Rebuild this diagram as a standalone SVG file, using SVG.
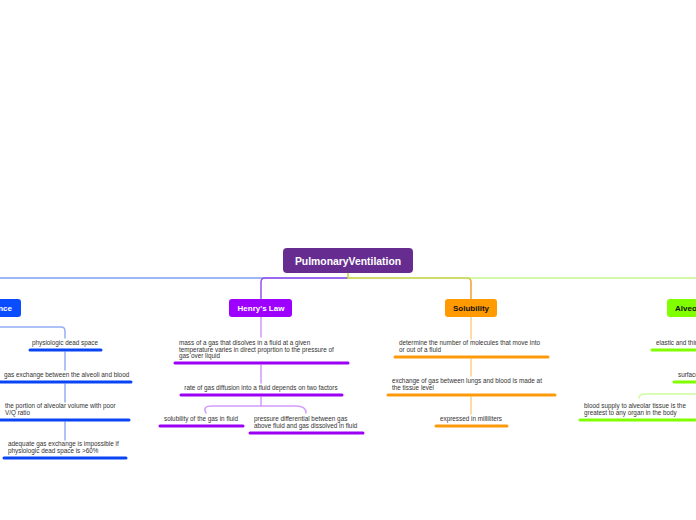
<svg xmlns="http://www.w3.org/2000/svg" width="696" height="520" viewBox="0 0 696 520">
<style>
.t{font-family:"Liberation Sans",Arial,sans-serif;font-size:6.35px;fill:#333}
.h{font-family:"Liberation Sans",Arial,sans-serif;font-size:8px;font-weight:bold;text-anchor:middle}
.c{fill:none;stroke-width:1.5;stroke-linecap:round;stroke-linejoin:round}
.bar{stroke-width:3;stroke-linecap:round}
.blue{stroke:#0a45f5}.pur{stroke:#9b00f5}.org{stroke:#fd9a0a}.grn{stroke:#7fff00}
</style>
<rect width="696" height="520" fill="#fff"/>
<g id="connectors">
  <path class="c" d="M348 278 H-20 V299" stroke="#7f9ef2"/>
  <path class="c" d="M348 278 H265 Q261 278 261 282 V299" stroke="#9650f0"/>
  <path class="c" d="M348 278 H467 Q471 278 471 282 V299" stroke="#f2a030"/>
  <path class="c" d="M348 278 H700" stroke="#b4f570" stroke-opacity="0.8"/>
  <path class="c" d="M348 273 V278" stroke="#b0dc40"/>
  <path class="c" d="M-20 317 V327 H61 Q65 327 65 331 V338" stroke="#94aef6"/>
  <path class="c" d="M65 352 V370 M65 384 V402 M65 422 V440" stroke="#94aef6"/>
  <path class="c" d="M261 317 V337 M261 365 V383 M261 397 V406" stroke="#d29cfb"/>
  <path class="c" d="M206 413 Q202 406 212 406 H296 Q306 406 306 413" stroke="#d29cfb"/>
  <path class="c" d="M471 317 V339 M471 359 V376 M471 397 V414" stroke="#fdd08c"/>
  <path class="c" d="M639 398 Q639 394 646 394 H700" stroke="#cdfc9c"/>
</g>
<g id="root">
  <rect x="283" y="248" width="130" height="25" rx="4" fill="#662c90"/>
  <text x="348" y="264.5" class="h" style="font-size:10.4px" fill="#fff">PulmonaryVentilation</text>
</g>
<g id="node-blue">
  <rect x="-60" y="299" width="81" height="18" rx="3" fill="#0a4cff"/>
  <text x="12" y="311" class="h" style="text-anchor:end" fill="#fff">ance</text>
</g>
<g id="node-henry">
  <rect x="229" y="299" width="63" height="18" rx="3" fill="#9d00ff"/>
  <text x="261" y="311" class="h" fill="#fff">Henry's Law</text>
</g>
<g id="node-solubility">
  <rect x="445" y="299" width="52" height="18" rx="3" fill="#ff9a00"/>
  <text x="471" y="311" class="h" fill="#111">Solubility</text>
</g>
<g id="node-alveoli">
  <rect x="667" y="299" width="70" height="18" rx="3" fill="#80ff00"/>
  <text x="675" y="311" class="h" style="text-anchor:start" fill="#111">Alveoli</text>
</g>
<g id="blue-1">
  <text x="65" y="345" class="t" text-anchor="middle">physiologic dead space</text>
  <line x1="30" y1="350" x2="101" y2="350" class="bar blue"/>
</g>
<g id="blue-2">
  <text x="4" y="377" class="t">gas exchange between the alveoli and blood</text>
  <line x1="-2" y1="382" x2="131" y2="382" class="bar blue"/>
</g>
<g id="blue-3">
  <text x="5" y="408" class="t">the portion of alveolar volume with poor</text>
  <text x="5" y="415" class="t">V/Q ratio</text>
  <line x1="-2" y1="420" x2="129" y2="420" class="bar blue"/>
</g>
<g id="blue-4">
  <text x="8" y="446" class="t">adequate gas exchange is impossible if</text>
  <text x="8" y="453" class="t">physiologic dead space is &gt;60%</text>
  <line x1="4" y1="458" x2="126" y2="458" class="bar blue"/>
</g>
<g id="henry-1">
  <text x="179" y="345" class="t">mass of a gas that disolves in a fluid at a given</text>
  <text x="179" y="352" class="t">temperature varies in direct proprtion to the pressure of</text>
  <text x="179" y="358" class="t">gas over liquid</text>
  <line x1="175" y1="363" x2="348" y2="363" class="bar pur"/>
</g>
<g id="henry-2">
  <text x="261" y="390" class="t" text-anchor="middle">rate of gas diffusion into a fluid depends on two factors</text>
  <line x1="181" y1="395" x2="342" y2="395" class="bar pur"/>
</g>
<g id="henry-3">
  <text x="164" y="421" class="t">solubility of the gas in fluid</text>
  <line x1="160" y1="426" x2="243" y2="426" class="bar pur"/>
</g>
<g id="henry-4">
  <text x="254" y="421" class="t">pressure differential between gas</text>
  <text x="254" y="428" class="t">above fluid and gas dissolved in fluid</text>
  <line x1="250" y1="433" x2="363" y2="433" class="bar pur"/>
</g>
<g id="sol-1">
  <text x="399" y="345" class="t">determine the number of molecules that move into</text>
  <text x="399" y="352" class="t">or out of a fluid</text>
  <line x1="395" y1="357" x2="548" y2="357" class="bar org"/>
</g>
<g id="sol-2">
  <text x="392" y="383" class="t">exchange of gas between lungs and blood is made at</text>
  <text x="392" y="390" class="t">the tissue level</text>
  <line x1="388" y1="395" x2="555" y2="395" class="bar org"/>
</g>
<g id="sol-3">
  <text x="471" y="421" class="t" text-anchor="middle">expressed in milliliters</text>
  <line x1="436" y1="426" x2="507" y2="426" class="bar org"/>
</g>
<g id="alv-1">
  <text x="656" y="345" class="t">elastic and thin</text>
  <line x1="652" y1="350" x2="700" y2="350" class="bar grn"/>
</g>
<g id="alv-2">
  <text x="678" y="377" class="t">surface</text>
  <line x1="674" y1="382" x2="700" y2="382" class="bar grn"/>
</g>
<g id="alv-3">
  <text x="584" y="408" class="t">blood supply to alveolar tissue is the</text>
  <text x="584" y="415" class="t">greatest to any organ in the body</text>
  <line x1="580" y1="420" x2="700" y2="420" class="bar grn"/>
</g>
</svg>
